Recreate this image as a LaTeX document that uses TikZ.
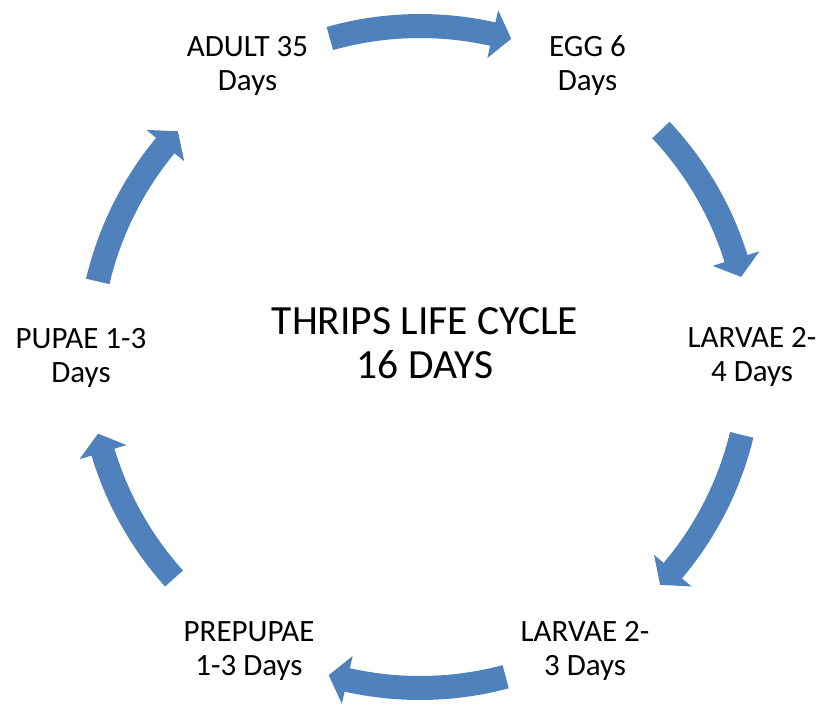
\documentclass[tikz,border=0pt]{standalone}
\usepackage{fontspec}
\setmainfont{Carlito}
\definecolor{cycblue}{HTML}{4F81BD}
\tikzset{
  lbl/.style={align=center, anchor=base, inner sep=0pt, font=\fontsize{31}{34}\selectfont},
  title/.style={align=center, anchor=base, inner sep=0pt, font=\fontsize{41.5}{43.5}\selectfont},
  cyc/.style={fill=cycblue, draw=none}
}
\newcommand{\cycarrow}[2]{%
  \pgfmathsetmacro\cycea{#2+3.3}%
  \fill[cyc] (#1:343pt) arc[start angle=#1, end angle=\cycea, radius=343pt]
    -- (\cycea:355.5pt) -- (#2:331pt) -- (\cycea:306.5pt) -- (\cycea:319pt)
    arc[start angle=\cycea, end angle=#1, radius=319pt] -- cycle;%
}
\begin{document}
\begin{tikzpicture}
\useasboundingbox (0pt,0pt) rectangle (825pt,-713pt);
\node[lbl] (adult) at (247.5pt,-90pt) {ADULT 35\\Days};
\node[lbl] (egg) at (587.5pt,-90pt) {EGG 6\\Days};
\node[lbl] (larvaeA) at (752pt,-381pt) {LARVAE 2-\\4 Days};
\node[lbl] (pupae) at (81pt,-382pt) {PUPAE 1-3\\Days};
\node[lbl] (prepupae) at (249pt,-675pt) {PREPUPAE\\1-3 Days};
\node[lbl] (larvaeB) at (585pt,-675pt) {LARVAE 2-\\3 Days};
\node[title] (center) at (425pt,-378pt) {THRIPS LIFE CYCLE\\16 DAYS};
\begin{scope}[shift={(420pt,-357pt)}]
  \cycarrow{105.8}{74}
  \cycarrow{43.3}{14}
  \cycarrow{-13.6}{-43.5}
  \cycarrow{-75}{-106}
  \cycarrow{-138}{-166.6}
  \cycarrow{166.8}{137}
\end{scope}
\end{tikzpicture}
\end{document}
